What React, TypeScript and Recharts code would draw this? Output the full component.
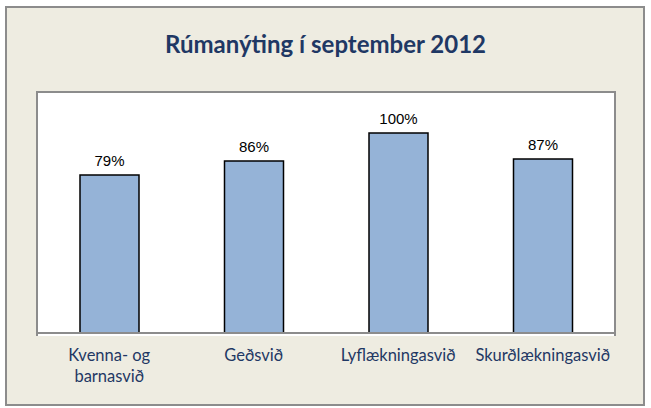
import React from "react";
import { BarChart, Bar, XAxis, YAxis, LabelList } from "recharts";

const categories = ["Kvenna- og\nbarnasvið", "Geðsvið", "Lyflækningasvið", "Skurðlækningasvið"];
const occupancy = [0.79, 0.86, 1.0, 0.87];
const boundaryTicks = [0, 1, 2, 3, 4];

const data = categories.map((c, i) => ({ name: c, value: occupancy[i], pos: i + 0.5 }));

const navy = "#1f3864";

const CatTick = (props: any) => {
  const { x, y, payload } = props;
  const lines = String(payload.value).split("\n");
  return (
    <text x={x} y={y} textAnchor="middle" fill={navy} fontFamily="Lato, 'Open Sans', sans-serif" fontSize={16.5}>
      {lines.map((l, i) => (
        <tspan key={i} x={x} dy={i === 0 ? 14 : 21}>{l}</tspan>
      ))}
    </text>
  );
};

export default function App() {
  return (
    <div style={{ position: "absolute", left: 0, top: 0, width: 651, height: 408, background: "#fff" }}>
      <div style={{ position: "absolute", left: 5, top: 6, width: 636, height: 396, background: "#eeece1", border: "2px solid #8c8c8c" }} />
      <div style={{ position: "absolute", left: 36, top: 91, width: 576, height: 243, background: "#fff", borderLeft: "2px solid #8c8c8c", borderTop: "2px solid #8c8c8c", borderRight: "2px solid #8c8c8c" }} />
      <div style={{ position: "absolute", left: 0, top: 29, width: 651, textAlign: "center", fontFamily: "Lato, 'Open Sans', sans-serif", fontWeight: 700, fontSize: 24, color: navy }}>
        Rúmanýting í september 2012
      </div>
      <div style={{ position: "absolute", left: 0, top: 0 }}>
        <BarChart width={651} height={408} data={data} margin={{ top: 93, right: 36, bottom: 15, left: 37 }} barCategoryGap="20%">
          <YAxis hide domain={[0, 1.2]} />
          <XAxis xAxisId="b" dataKey="pos" type="number" domain={[0, 4]} ticks={boundaryTicks} tick={false} tickSize={6} axisLine={{ stroke: "#8c8c8c", strokeWidth: 2 }} tickLine={{ stroke: "#8c8c8c", strokeWidth: 2 }} orientation="bottom" height={6} />
          <XAxis dataKey="name" xAxisId="cat" axisLine={false} tickLine={false} tick={<CatTick />} interval={0} height={54} />
          <Bar dataKey="value" xAxisId="cat" fill="#95b3d7" stroke="#000" strokeWidth={1.5} barSize={59} isAnimationActive={false}>
            <LabelList dataKey="value" position="top" offset={9} formatter={(v: any) => `${Math.round(v * 100)}%`} fill="#000" fontFamily="'Liberation Sans', Arial, sans-serif" fontSize={15} />
          </Bar>
        </BarChart>
      </div>
    </div>
  );
}
